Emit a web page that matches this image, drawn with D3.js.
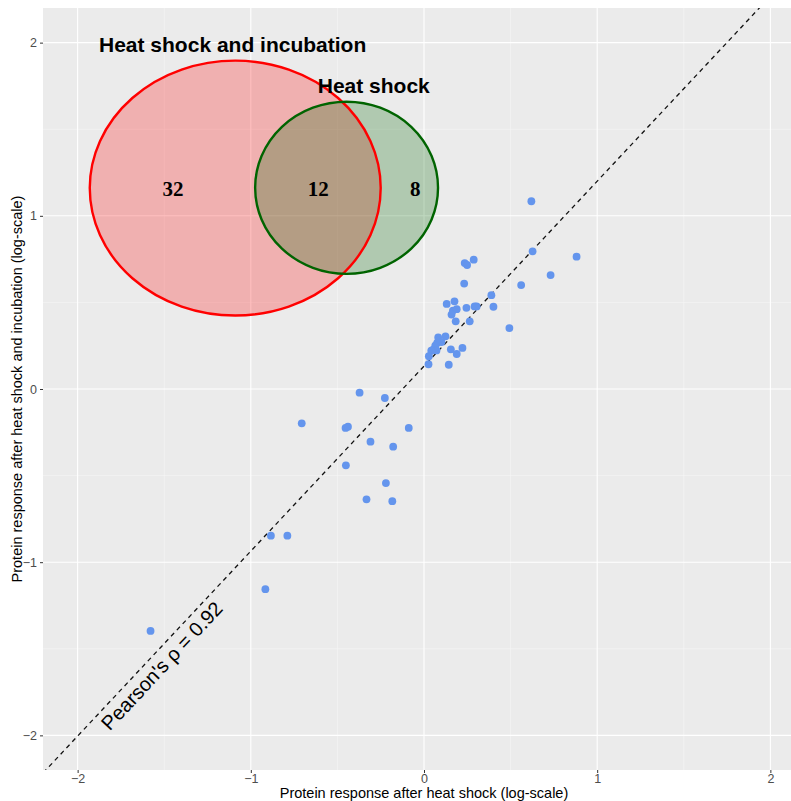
<!DOCTYPE html>
<html>
<head>
<meta charset="utf-8">
<script src="https://cdn.jsdelivr.net/npm/d3@7"></script>
<style>
  html, body { margin: 0; padding: 0; background: #ffffff; }
  svg { display: block; }
</style>
</head>
<body>
<script>
// Protein responses (log-scale): heat shock (x) vs heat shock + incubation (y)
const heatShock = [
  0.620, 0.627, 0.881, 0.731, 0.561, 0.235, 0.249, 0.287, 0.232, 0.389,
  0.131, 0.176, 0.167, 0.189, 0.159, 0.245, 0.292, 0.304, 0.401, 0.183,
  0.264, 0.493, 0.082, 0.124, 0.101, 0.076, 0.065, 0.053, 0.072, 0.042,
  0.155, 0.222, 0.189, 0.028, 0.026, 0.143,
  -0.372, -0.226, -0.706, -0.453, -0.439, -0.088, -0.309, -0.178, -0.451, -0.220,
  -0.332, -0.183, -0.884, -0.789, -0.916, -1.579
];
const heatShockIncubation = [
  1.084, 0.795, 0.764, 0.658, 0.600, 0.727, 0.716, 0.747, 0.609, 0.542,
  0.491, 0.506, 0.453, 0.461, 0.430, 0.469, 0.477, 0.477, 0.475, 0.391,
  0.391, 0.352, 0.298, 0.304, 0.271, 0.266, 0.250, 0.227, 0.223, 0.221,
  0.229, 0.237, 0.202, 0.189, 0.143, 0.140,
  -0.021, -0.052, -0.198, -0.225, -0.218, -0.225, -0.304, -0.333, -0.441, -0.543,
  -0.637, -0.648, -0.847, -0.847, -1.156, -1.397
];

// Fitted line y = intercept + slope * x, and correlation
const fitIntercept = 0.132;
const fitSlope = 1.068;
const pearsonRho = 0.92;

// Axis ticks
const xTicks = [-2, -1, 0, 1, 2];
const yTicks = [-2, -1, 0, 1, 2];
const minorBreaks = [-1.5, -0.5, 0.5, 1.5];

// Venn overlay: set names and region counts
const vennSets = ["Heat shock and incubation", "Heat shock"];
const vennCounts = [32, 12, 8]; // only first, both, only second

const width = 791, height = 801;
const panel = { left: 43, top: 8, right: 805, bottom: 770 };

const x = d3.scaleLinear().domain([-2.2, 2.2]).range([panel.left, panel.right]);
const y = d3.scaleLinear().domain([-2.2, 2.2]).range([panel.bottom, panel.top]);
const unit = x(1) - x(0);

const svg = d3.select("body").append("svg")
  .attr("width", width).attr("height", height)
  .style("font-family", "'Liberation Sans', Arial, sans-serif");

svg.append("defs").append("clipPath").attr("id", "panel-clip")
  .append("rect")
  .attr("x", panel.left).attr("y", panel.top)
  .attr("width", panel.right - panel.left).attr("height", panel.bottom - panel.top);

// Panel background and grid
svg.append("rect")
  .attr("x", panel.left).attr("y", panel.top)
  .attr("width", panel.right - panel.left).attr("height", panel.bottom - panel.top)
  .attr("fill", "#ebebeb");

const grid = svg.append("g").attr("clip-path", "url(#panel-clip)");
grid.selectAll(".minor-x").data(minorBreaks).join("line")
  .attr("x1", d => x(d)).attr("x2", d => x(d))
  .attr("y1", panel.top).attr("y2", panel.bottom)
  .attr("stroke", "#f7f7f7").attr("stroke-width", 0.55);
grid.selectAll(".minor-y").data(minorBreaks).join("line")
  .attr("y1", d => y(d)).attr("y2", d => y(d))
  .attr("x1", panel.left).attr("x2", panel.right)
  .attr("stroke", "#f7f7f7").attr("stroke-width", 0.55);
grid.selectAll(".major-x").data(xTicks).join("line")
  .attr("x1", d => x(d)).attr("x2", d => x(d))
  .attr("y1", panel.top).attr("y2", panel.bottom)
  .attr("stroke", "#ffffff").attr("stroke-width", 1.1);
grid.selectAll(".major-y").data(yTicks).join("line")
  .attr("y1", d => y(d)).attr("y2", d => y(d))
  .attr("x1", panel.left).attr("x2", panel.right)
  .attr("stroke", "#ffffff").attr("stroke-width", 1.1);

// Axes
const xAxis = svg.append("g")
  .attr("transform", `translate(0,${panel.bottom})`)
  .call(d3.axisBottom(x).tickValues(xTicks).tickSize(3).tickPadding(1).tickFormat(d3.format("d")));
const yAxis = svg.append("g")
  .attr("transform", `translate(${panel.left},0)`)
  .call(d3.axisLeft(y).tickValues(yTicks).tickSize(3).tickPadding(3).tickFormat(d3.format("d")));
[xAxis, yAxis].forEach(g => {
  g.select(".domain").remove();
  g.selectAll(".tick line").attr("stroke", "#333333").attr("stroke-width", 1);
  g.selectAll(".tick text")
    .attr("fill", "#4d4d4d")
    .style("font-size", "12.5px")
    .style("font-family", "'Liberation Sans', Arial, sans-serif");
});

// Axis titles
svg.append("text")
  .attr("x", x(0)).attr("y", 798)
  .attr("text-anchor", "middle")
  .style("font-size", "14.5px")
  .text("Protein response after heat shock (log-scale)");
svg.append("text")
  .attr("transform", `translate(22,${y(0)}) rotate(-90)`)
  .attr("text-anchor", "middle")
  .style("font-size", "14.5px")
  .text("Protein response after heat shock and incubation (log-scale)");

const plot = svg.append("g").attr("clip-path", "url(#panel-clip)");

// Fitted line
const lineX = [-2.4, 2.4];
plot.append("line")
  .attr("x1", x(lineX[0])).attr("y1", y(fitIntercept + fitSlope * lineX[0]))
  .attr("x2", x(lineX[1])).attr("y2", y(fitIntercept + fitSlope * lineX[1]))
  .attr("stroke", "#111111").attr("stroke-width", 1.3)
  .attr("stroke-dasharray", "4.5,4");

// Points
const pts = heatShock.map((v, i) => ({ x: v, y: heatShockIncubation[i] }));
plot.selectAll("circle.pt").data(pts).join("circle")
  .attr("class", "pt")
  .attr("cx", d => x(d.x)).attr("cy", d => y(d.y))
  .attr("r", 3.9)
  .attr("fill", "#6495ed");

// Correlation label along the fitted line
const labelX = -1.507, labelY = -1.605;
const angle = -Math.atan(fitSlope) * 180 / Math.PI;
plot.append("text")
  .attr("transform", `translate(${x(labelX)},${y(labelY)}) rotate(${angle})`)
  .attr("text-anchor", "middle")
  .attr("dominant-baseline", "middle")
  .style("font-size", "20px")
  .text(`Pearson's \u03c1 = ${pearsonRho.toFixed(2)}`);

// Venn diagram of responding proteins (ellipses in data units)
const vennShapes = [
  { cx: -1.090, cy: 1.160, rx: 0.840, ry: 0.736, fill: "#ff0000", stroke: "#ff0000" },
  { cx: -0.447, cy: 1.162, rx: 0.528, ry: 0.497, fill: "#006400", stroke: "#006400" }
];
const venn = svg.append("g");
venn.selectAll("ellipse.fill").data(vennShapes).join("ellipse")
  .attr("cx", d => x(d.cx)).attr("cy", d => y(d.cy))
  .attr("rx", d => d.rx * unit).attr("ry", d => d.ry * unit)
  .attr("fill", d => d.fill).attr("fill-opacity", 0.25)
  .attr("stroke", "none");
venn.selectAll("ellipse.edge").data(vennShapes).join("ellipse")
  .attr("cx", d => x(d.cx)).attr("cy", d => y(d.cy))
  .attr("rx", d => d.rx * unit).attr("ry", d => d.ry * unit)
  .attr("fill", "none")
  .attr("stroke", d => d.stroke).attr("stroke-width", 2.4);

// Region counts
const countPos = [
  { x: -1.450, y: 1.145 },
  { x: -0.610, y: 1.145 },
  { x: -0.050, y: 1.145 }
];
venn.selectAll("text.count").data(vennCounts).join("text")
  .attr("x", (d, i) => x(countPos[i].x)).attr("y", (d, i) => y(countPos[i].y))
  .attr("text-anchor", "middle")
  .attr("dominant-baseline", "middle")
  .style("font-family", "'Liberation Serif', 'Times New Roman', serif")
  .style("font-weight", "bold")
  .style("font-size", "21px")
  .text(d => d);

// Set names
const namePos = [
  { x: -1.105, y: 1.945 },
  { x: -0.290, y: 1.712 }
];
venn.selectAll("text.setname").data(vennSets).join("text")
  .attr("x", (d, i) => x(namePos[i].x)).attr("y", (d, i) => y(namePos[i].y))
  .attr("text-anchor", "middle")
  .style("font-weight", "bold")
  .style("font-size", "21px")
  .text(d => d);
</script>
</body>
</html>
